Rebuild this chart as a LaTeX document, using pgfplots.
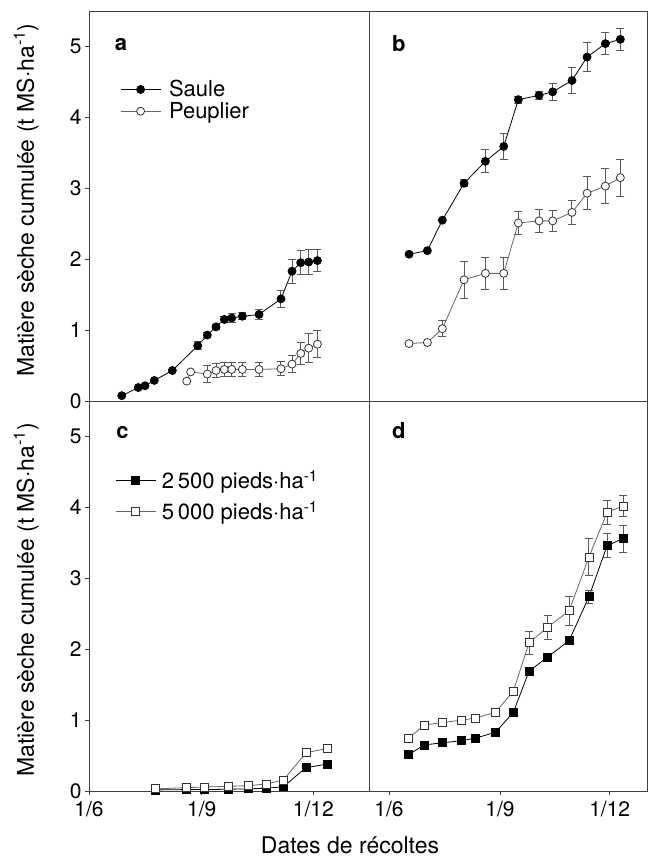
\documentclass[border=0pt]{standalone}
\usepackage{pgfplots}
\pgfplotsset{compat=1.18}
\usepackage{fontspec}
\setmainfont{TeX Gyre Heros}
\setsansfont{TeX Gyre Heros}

\newcommand{\unit}{(t MS·ha\textsuperscript{-1})}

\tikzset{plab/.style={font=\bfseries\fontsize{22}{26}\selectfont}}

\pgfplotsset{
  panel/.style={
    scale only axis, width=280pt, height=390pt,
    ymin=0, ymax=5.5,
    axis line style={black!75, line width=0.9pt},
    tick style={black!75, line width=0.8pt},
    major tick length=4pt, tick align=outside, tick pos=left,
    ticklabel style={font=\fontsize{21}{25}\selectfont},
    xticklabel style={yshift=-3pt},
    label style={font=\fontsize{23}{27}\selectfont},
    legend cell align=left,
    legend image code/.code={\draw[mark repeat=2, mark phase=2, #1]
      plot coordinates {(0pt,0pt) (20pt,0pt) (40pt,0pt)};},
  },
  leftp/.style={panel, xmin=0, xmax=228.4,
    ytick={0,1,2,3,4,5}, yticklabels={0,1,2,3,4,5}},
  rightp/.style={panel, xmin=-16.6, xmax=213.9, ytick=\empty},
  toprow/.style={xtick=\empty},
  botrow/.style={xtick={0,92,183}, xticklabels={1/6,1/9,1/12}},
  ebar/.style={error bars/.cd, y dir=both, y explicit,
    error bar style={black!65, line width=1pt},
    error mark options={rotate=90, mark size=4pt, black!65, line width=1pt}},
  sfill/.style={black, line width=0.8pt, mark=*, mark size=4pt,
    mark options={fill=black, draw=black}},
  sopen/.style={black!60, line width=0.8pt, mark=*, mark size=4pt,
    mark options={fill=white, draw=black!80}},
  qfill/.style={black, line width=0.8pt, mark=square*, mark size=4pt,
    mark options={fill=black, draw=black}},
  qopen/.style={black!60, line width=0.8pt, mark=square*, mark size=4pt,
    mark options={fill=white, draw=black!80}},
}

\begin{document}
\begin{tikzpicture}
\useasboundingbox (0pt,0pt) rectangle (648pt,861pt);

% a : first year
\begin{axis}[leftp, toprow, at={(89pt,460pt)}, anchor=south west,
  ylabel={Matière sèche cumulée \unit},
  ylabel style={at={(axis description cs:-0.225,0.515)}, anchor=center},
  legend style={at={(axis description cs:0.1,0.83)}, anchor=north west,
    draw=none, fill=none, font=\fontsize{22}{26}\selectfont,
    row sep=2pt, column sep=7pt, nodes={inner sep=1pt}}]
\addplot[sfill, ebar] table[x=x, y=y, y error=e] {
x y e
26.7 0.075 0
40.2 0.19 0
45.7 0.215 0
53.3 0.29 0
68.0 0.43 0
88.7 0.78 0.06
96.5 0.93 0.04
103.6 1.045 0.04
110.4 1.15 0.04
116.4 1.17 0.06
125.1 1.195 0.05
138.7 1.22 0.07
156.6 1.44 0.12
165.6 1.83 0.17
172.7 1.95 0.17
179.2 1.96 0.17
186.3 1.98 0.16
};
\addplot[sopen, ebar] table[x=x, y=y, y error=e] {
x y e
79.7 0.28 0
82.9 0.41 0
96.5 0.38 0.12
103.6 0.43 0.1
110.4 0.445 0.1
116.4 0.445 0.1
125.1 0.445 0.1
138.7 0.445 0.1
156.6 0.455 0.1
165.6 0.52 0.12
172.7 0.67 0.15
179.2 0.745 0.2
186.3 0.80 0.19
};
\legend{Saule, Peuplier}
\node[plab] at (axis description cs:0.114,0.913) {a};
\end{axis}

% b : second year
\begin{axis}[rightp, toprow, at={(369pt,460pt)}, anchor=south west, width=278pt]
\addplot[sfill, ebar] table[x=x, y=y, y error=e] {
x y e
16.6 2.07 0
31.8 2.12 0
44.2 2.55 0
62.2 3.07 0.05
79.9 3.38 0.16
95.1 3.59 0.18
107.2 4.25 0.05
124.4 4.31 0.06
135.7 4.36 0.12
151.7 4.52 0.18
164.2 4.85 0.21
179.4 5.04 0.16
191.8 5.10 0.16
};
\addplot[sopen, ebar] table[x=x, y=y, y error=e] {
x y e
16.6 0.81 0
31.8 0.825 0
44.2 1.02 0.11
62.2 1.71 0.26
79.9 1.80 0.23
95.1 1.80 0.23
107.2 2.51 0.16
124.4 2.54 0.16
135.7 2.54 0.15
151.7 2.66 0.17
164.2 2.93 0.23
179.4 3.03 0.25
191.8 3.15 0.26
};
\node[plab] at (axis description cs:0.107,0.916) {b};
\end{axis}

% c : densities, first year
\begin{axis}[leftp, botrow, at={(89pt,70pt)}, anchor=south west,
  ylabel={Matière sèche cumulée \unit},
  ylabel style={at={(axis description cs:-0.225,0.49)}, anchor=center},
  legend style={at={(axis description cs:0.082,0.83)}, anchor=north west,
    draw=none, fill=none, font=\fontsize{22}{26}\selectfont,
    row sep=9pt, column sep=5pt, nodes={inner sep=1pt}}]
\addplot[qfill] table[x=x, y=y] {
x y
53.8 0.015
79.7 0.02
94.1 0.02
114 0.025
130 0.03
145 0.04
158.6 0.06
177 0.33
194.5 0.38
};
\addplot[qopen] table[x=x, y=y] {
x y
53.8 0.03
79.7 0.047
94.1 0.056
114 0.066
130 0.075
145 0.10
158.6 0.155
177 0.54
194.5 0.60
};
\legend{2\,500 pieds·ha\textsuperscript{-1}, 5\,000 pieds·ha\textsuperscript{-1}}
\node[plab] at (axis description cs:0.12,0.92) {c};
\end{axis}

% d : densities, second year
\begin{axis}[rightp, botrow, at={(369pt,70pt)}, anchor=south west, width=278pt]
\addplot[qfill, ebar] table[x=x, y=y, y error=e] {
x y e
16 0.51 0
29.3 0.65 0
44.5 0.68 0
60.3 0.71 0
71.9 0.745 0
88.4 0.83 0
103.1 1.11 0
116.1 1.69 0
131.6 1.89 0
149.3 2.12 0
165.8 2.74 0.09
180.8 3.46 0.17
194 3.56 0.19
};
\addplot[qopen, ebar] table[x=x, y=y, y error=e] {
x y e
16 0.74 0
29.3 0.93 0
44.5 0.966 0
60.3 1.0 0
71.9 1.03 0
88.4 1.11 0
103.1 1.41 0
116.1 2.09 0.16
131.6 2.31 0.17
149.3 2.54 0.2
165.8 3.30 0.26
180.8 3.93 0.17
194 4.02 0.15
};
\node[plab] at (axis description cs:0.107,0.925) {d};
\end{axis}

\node[font=\fontsize{23}{27}\selectfont, anchor=base] at (350pt,8pt) {Dates de récoltes};
\end{tikzpicture}
\end{document}
